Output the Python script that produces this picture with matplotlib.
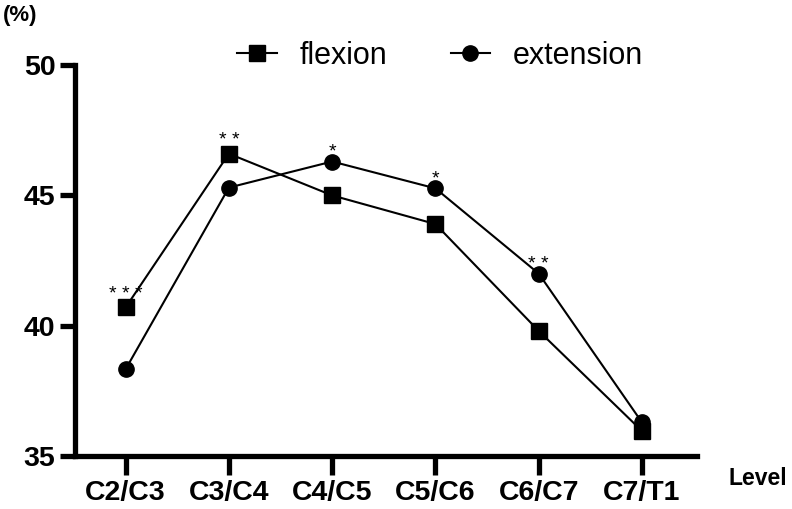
import matplotlib
matplotlib.use("Agg")
import matplotlib.pyplot as plt

levels = ["C2/C3", "C3/C4", "C4/C5", "C5/C6", "C6/C7", "C7/T1"]
flexion = [40.7, 46.6, 45.0, 43.9, 39.8, 35.96]
extension = [38.33, 45.3, 46.3, 45.27, 42.0, 36.29]
# significance marks: (index, series, text)
marks = [(0, "flexion", "* * *"), (1, "flexion", "* *"), (2, "extension", "*"),
         (3, "extension", "*"), (4, "extension", "* *")]

plt.rcParams["font.family"] = ["Liberation Sans", "DejaVu Sans"]

fig = plt.figure(figsize=(7.92, 5.09), dpi=100)
ax = fig.add_axes([0.0947, 0.1041, 0.785, 0.768])

x = list(range(len(levels)))
ax.plot(x, flexion, color="black", lw=1.5, marker="s", ms=11.5, label="flexion")
ax.plot(x, extension, color="black", lw=1.5, marker="o", ms=11, label="extension")

# asterisk offset above the marker, in points
offset = {"flexion": 6.0, "extension": 3.3}
for i, series, txt in marks:
    y = flexion[i] if series == "flexion" else extension[i]
    ax.annotate(txt, (i, y), xytext=(0, offset[series]), textcoords="offset points",
                ha="center", va="baseline", fontsize=14)

ax.set_xlim(-0.49, 5.53)
ax.set_ylim(35, 50)
ax.set_yticks([35, 40, 45, 50])
ax.set_xticks(x)
ax.set_xticklabels(levels)
for s in ["top", "right"]:
    ax.spines[s].set_visible(False)
for s in ["left", "bottom"]:
    ax.spines[s].set_linewidth(3.8)
    ax.spines[s].set_capstyle("projecting")
ax.tick_params(axis="y", width=3.8, length=11, labelsize=20.5, pad=3)
ax.tick_params(axis="x", width=3.8, length=13.5, labelsize=20.5, pad=4)
for lab in ax.get_xticklabels() + ax.get_yticklabels():
    lab.set_fontweight("bold")

fig.legend(*ax.get_legend_handles_labels(), loc="center", bbox_to_anchor=(0.556, 0.89),
           ncol=2, frameon=False, fontsize=22, handlelength=1.3,
           columnspacing=2.06, handletextpad=0.75)

fig.text(0.004, 0.9705, "(%)", fontsize=16, fontweight="bold", ha="left", va="center")
fig.text(0.920, 0.059, "Level", fontsize=16.5, fontweight="bold", ha="left", va="center")

fig.savefig("out.png", dpi=100)
